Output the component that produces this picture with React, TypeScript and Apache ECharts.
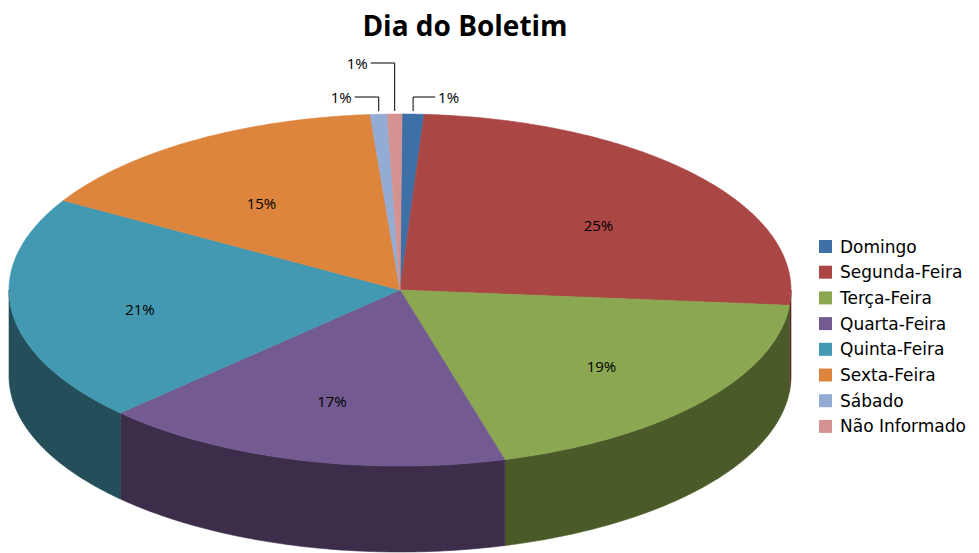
import React, { useEffect, useRef } from "react";
import * as echarts from "echarts";

const categories = [
  "Domingo",
  "Segunda-Feira",
  "Terça-Feira",
  "Quarta-Feira",
  "Quinta-Feira",
  "Sexta-Feira",
  "Sábado",
  "Não Informado",
];
const values = [0.9, 25.4, 19.3, 17.0, 20.8, 15.3, 0.7, 0.6];
const topColors = ["#3E70A8", "#AA4644", "#8CA751", "#735A90", "#4399B1", "#DD843D", "#94ACD4", "#D49391"];
const sideColors = ["#213B59", "#5E2625", "#4B5A29", "#3C2E4B", "#234E5A", "#7A4820", "#4F5B70", "#70504F"];

// layout constants (not data)
const CX = 400;
const CY = 290;
const RX = 391;
const RY = 176;
const DEPTH = 86;
const START = (0.3 * Math.PI) / 180;
const LABEL_FX = 0.67;
const LABEL_FY = 0.62;
const LABEL_DY = 6;
const FONT = '"Open Sans", "Noto Sans", sans-serif';
const LEGEND_FONT = '"DejaVu Sans", "Open Sans", sans-serif';
// leader-line layout for the tiny slices: direction, lift above the rim, horizontal length
const leaderLayout: Record<number, { dir: number; lift: number; len: number }> = {
  0: { dir: 1, lift: 17, len: 22 },
  6: { dir: -1, lift: 17, len: 24 },
  7: { dir: -1, lift: 51, len: 24 },
};

const TOTAL = values.reduce((a, b) => a + b, 0);
const cumStarts: number[] = [];
{
  let acc = 0;
  values.forEach((v) => {
    cumStarts.push(acc);
    acc += v;
  });
}

function ellipsePt(a: number, dy = 0): number[] {
  return [CX + RX * Math.sin(a), CY - RY * Math.cos(a) + dy];
}
function arcPts(s: number, e: number, dy = 0): number[][] {
  const n = Math.max(2, Math.ceil((e - s) / (Math.PI / 360)));
  const pts: number[][] = [];
  for (let k = 0; k <= n; k++) pts.push(ellipsePt(s + ((e - s) * k) / n, dy));
  return pts;
}

function renderItem(params: any, api: any) {
  const i = params.dataIndex;
  const v = api.value(0) as number;
  const a0 = START + (cumStarts[i] / TOTAL) * 2 * Math.PI;
  const a1 = a0 + (v / TOTAL) * 2 * Math.PI;
  const children: any[] = [];

  const s = Math.max(a0, Math.PI / 2);
  const e = Math.min(a1, (3 * Math.PI) / 2);
  if (e > s) {
    const top = arcPts(s, e, 0);
    const bot = arcPts(s, e, DEPTH).reverse();
    children.push({
      type: "polygon",
      z2: 1,
      shape: { points: top.concat(bot) },
      style: { fill: sideColors[i], stroke: sideColors[i], lineWidth: 0.6 },
    });
  }
  children.push({
    type: "polygon",
    z2: 5,
    shape: { points: [[CX, CY]].concat(arcPts(a0, a1, 0)) },
    style: { fill: topColors[i], stroke: topColors[i], lineWidth: 0.6 },
  });

  const pct = Math.round((v / TOTAL) * 100) + "%";
  const mid = (a0 + a1) / 2;
  const lay = leaderLayout[i];
  if (lay) {
    const p = ellipsePt(mid, -3);
    const yTop = CY - RY - lay.lift;
    const xEnd = p[0] + lay.dir * lay.len;
    children.push({
      type: "polyline",
      z2: 9,
      shape: { points: [p, [p[0], yTop], [xEnd, yTop]] },
      style: { stroke: "#000", lineWidth: 1, fill: null },
    });
    children.push({
      type: "text",
      z2: 10,
      style: {
        text: pct,
        x: xEnd + lay.dir * 3,
        y: yTop,
        align: lay.dir > 0 ? "left" : "right",
        verticalAlign: "middle",
        fill: "#000",
        font: "15px " + FONT,
      },
    });
  } else {
    children.push({
      type: "text",
      z2: 10,
      style: {
        text: pct,
        x: CX + LABEL_FX * RX * Math.sin(mid),
        y: CY - LABEL_FY * RY * Math.cos(mid) + LABEL_DY,
        align: "center",
        verticalAlign: "middle",
        fill: "#000",
        font: "15px " + FONT,
      },
    });
  }
  return { type: "group", children };
}

export default function App() {
  const ref = useRef<HTMLDivElement>(null);
  useEffect(() => {
    document.body.style.margin = "0";
    if (!ref.current) return;
    const chart = echarts.init(ref.current, undefined, { renderer: "svg" });
    chart.setOption({
      animation: false,
      backgroundColor: "#fff",
      title: {
        text: "Dia do Boletim",
        left: 460,
        top: 6,
        textAlign: "center",
        textStyle: { fontFamily: FONT, fontSize: 28, fontWeight: "bold", color: "#000" },
      },
      legend: {
        orient: "vertical",
        left: 814,
        top: 233,
        itemWidth: 13,
        itemHeight: 13,
        itemGap: 8.7,
        icon: "rect",
        data: categories,
        selectedMode: false,
        textStyle: { fontFamily: LEGEND_FONT, fontSize: 17, lineHeight: 17, color: "#000", padding: [0, 0, 0, 3] },
      },
      series: [
        {
          type: "custom",
          coordinateSystem: "none",
          silent: true,
          renderItem,
          data: values.map((v, i) => ({ name: categories[i], value: v })),
        },
        {
          type: "pie",
          silent: true,
          center: [-500, -500],
          radius: [0, 1],
          label: { show: false },
          labelLine: { show: false },
          data: values.map((v, i) => ({ name: categories[i], value: v, itemStyle: { color: topColors[i] } })),
        },
      ],
    });
    return () => chart.dispose();
  }, []);
  return <div ref={ref} style={{ width: 979, height: 553 }} />;
}
